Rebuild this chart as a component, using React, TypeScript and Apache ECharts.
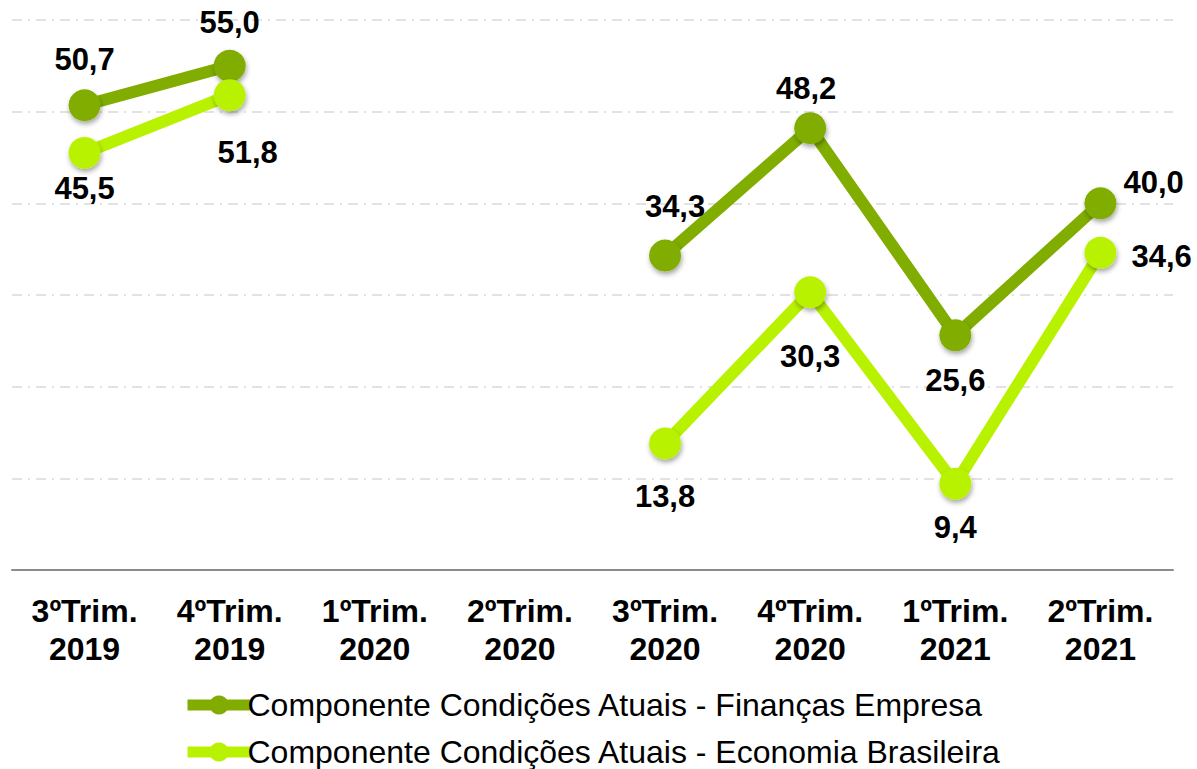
import React, { useEffect, useRef } from "react";
import * as echarts from "echarts";

const categories = [
  "3ºTrim.\n2019",
  "4ºTrim.\n2019",
  "1ºTrim.\n2020",
  "2ºTrim.\n2020",
  "3ºTrim.\n2020",
  "4ºTrim.\n2020",
  "1ºTrim.\n2021",
  "2ºTrim.\n2021",
];
const financasEmpresa: (number | null)[] = [50.7, 55.0, null, null, 34.3, 48.2, 25.6, 40.0];
const economiaBrasileira: (number | null)[] = [45.5, 51.8, null, null, 13.8, 30.3, 9.4, 34.6];
const seriesNames = [
  "Componente Condições Atuais - Finanças Empresa",
  "Componente Condições Atuais - Economia Brasileira",
];
// label placement per point
const posEmpresa = ["top", "top", "top", "top", "top", "top", "bottom", "right"];
const posEconomia = ["bottom", "bottom", "bottom", "bottom", "bottom", "bottom", "bottom", "right"];

const DARK = "#80ad00";
const LIGHT = "#b8f200";
const FONT = "'Liberation Sans', Arial, sans-serif";

const fmt = (v: number) => v.toFixed(1).replace(".", ",");

function buildData(vals: (number | null)[], pos: string[], extra: Record<number, any>) {
  return vals.map((v, i) => {
    if (v === null) return null;
    const o: any = { value: v, label: { position: pos[i] } };
    if (extra[i]) o.label = { ...o.label, ...extra[i] };
    return o;
  });
}

export default function App() {
  const ref = useRef<HTMLDivElement>(null);
  useEffect(() => {
    if (!ref.current) return;
    const chart = echarts.init(ref.current, null, { renderer: "svg" });
    const labelBase = {
      show: true,
      fontFamily: FONT,
      fontWeight: "bold",
      fontSize: 31,
      color: "#000",
      formatter: (p: any) => fmt(p.value),
    };
    const itemShadow = {
      shadowBlur: 5,
      shadowColor: "rgba(0,0,0,0.35)",
      shadowOffsetY: 3,
      shadowOffsetX: 1,
    };
    const legendBase = {
      orient: "horizontal",
      left: 177,
      itemWidth: 63,
      itemHeight: 24,
      lineStyle: { width: 11 },
      textStyle: { fontFamily: FONT, fontSize: 32, color: "#000", padding: [0, 0, 0, -8] },
    };
    chart.setOption({
      animation: false,
      backgroundColor: "#fff",
      grid: { left: 12, right: 24, top: 20, bottom: 199, containLabel: false },
      xAxis: {
        type: "category",
        data: categories,
        axisLine: { lineStyle: { color: "#8c8c8c", width: 2 } },
        axisTick: { show: false },
        axisLabel: {
          fontFamily: FONT,
          fontWeight: "bold",
          fontSize: 32,
          color: "#000",
          lineHeight: 38,
          margin: 22,
          interval: 0,
        },
      },
      yAxis: {
        type: "value",
        min: 0,
        max: 60,
        interval: 10,
        axisLabel: { show: false },
        axisLine: { show: false },
        axisTick: { show: false },
        splitLine: {
          lineStyle: { color: "#d9d9d9", width: 1.5, type: [10, 6, 2, 6] },
        },
      },
      legend: [
        { ...legendBase, top: 684, data: [seriesNames[0]] },
        { ...legendBase, top: 731, data: [seriesNames[1]] },
      ],
      series: [
        {
          name: seriesNames[0],
          type: "line",
          data: buildData(financasEmpresa, posEmpresa, {
            0: { offset: [0, -2] },
            1: { offset: [0, 0] },
            4: { offset: [10, -6] },
            5: { offset: [-4, 4] },
            6: { offset: [0, 2] },
            7: { offset: [-5, -21] },
          }),
          connectNulls: false,
          symbol: "circle",
          symbolSize: 32,
          lineStyle: { color: DARK, width: 12 },
          itemStyle: { color: DARK, ...itemShadow },
          label: { ...labelBase, distance: 12 },
          z: 3,
        },
        {
          name: seriesNames[1],
          type: "line",
          data: buildData(economiaBrasileira, posEconomia, {
            0: { offset: [0, -4] },
            1: { offset: [18, 18] },
            4: { offset: [0, 13] },
            5: { offset: [0, 25] },
            6: { offset: [0, 4] },
            7: { offset: [7, 4] },
          }),
          connectNulls: false,
          symbol: "circle",
          symbolSize: 32,
          lineStyle: { color: LIGHT, width: 12 },
          itemStyle: { color: LIGHT, ...itemShadow },
          label: { ...labelBase, distance: 8 },
          z: 4,
        },
      ],
    });
    return () => chart.dispose();
  }, []);
  return <div ref={ref} style={{ width: 1197, height: 769, position: "absolute", left: 0, top: 0 }} />;
}
